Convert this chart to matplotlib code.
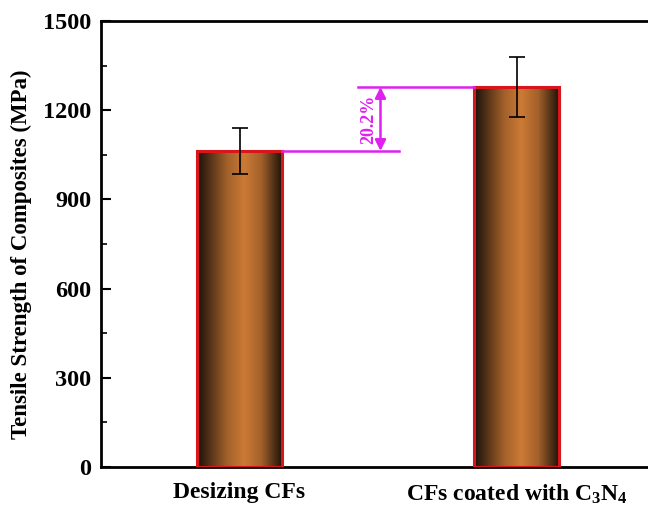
import numpy as np
import matplotlib
matplotlib.use('Agg')
import matplotlib.pyplot as plt
from matplotlib.colors import LinearSegmentedColormap
from matplotlib.patches import Rectangle

plt.rcParams['font.family'] = ['Liberation Serif', 'DejaVu Serif']
plt.rcParams['font.weight'] = 'bold'
plt.rcParams['mathtext.fontset'] = 'custom'
plt.rcParams['mathtext.rm'] = 'Liberation Serif:bold'
plt.rcParams['mathtext.it'] = 'Liberation Serif:bold'
plt.rcParams['mathtext.bf'] = 'Liberation Serif:bold'

# data
categories = ['Desizing CFs', r'CFs coated with C$_3$N$_4$']
strength = [1063, 1278]
errors = [78, 100]
increase_label = '20.2%'

fig = plt.figure(figsize=(6.48, 5.05), dpi=100)
ax = fig.add_axes([101 / 648, 38 / 505, 554 / 648, 446 / 505])

x = np.arange(1, len(categories) + 1)
width = 0.31

# gradient: dark edges, copper center
cmap = LinearSegmentedColormap.from_list(
    'copper_bar', [(0.0, '#1a100a'), (0.35, '#a2602a'), (0.55, '#cc7a35'),
                   (0.75, '#a2602a'), (1.0, '#1a100a')])
grad = np.linspace(0, 1, 256).reshape(1, -1)

for xi, h in zip(x, strength):
    im = ax.imshow(grad, cmap=cmap, aspect='auto',
                   extent=(xi - width / 2, xi + width / 2, 0, h), zorder=2)
    rect = Rectangle((xi - width / 2, 0), width, h, facecolor='none',
                     edgecolor='#d8161c', linewidth=2.2, zorder=3)
    ax.add_patch(rect)
    im.set_clip_path(rect)

ax.errorbar(x, strength, yerr=errors, fmt='none', ecolor='black',
            elinewidth=1.2, capsize=6, capthick=1.2, zorder=4)

# increase annotation
mag = '#e020f0'
ax.plot([x[0] + width / 2, 1.575], [strength[0], strength[0]],
        color=mag, lw=1.8, zorder=3)
ax.plot([1.426, x[1] - width / 2], [strength[1], strength[1]],
        color=mag, lw=1.8, zorder=3)
xa = 1.509
ax.annotate('', xy=(xa, strength[1]), xytext=(xa, strength[0]),
            arrowprops=dict(arrowstyle='<|-|>', color=mag, lw=1.8,
                            mutation_scale=16, shrinkA=0, shrinkB=0))
ax.text(1.466, (strength[0] + strength[1]) / 2, increase_label,
        rotation=90, ha='center', va='center', color=mag,
        fontsize=13, fontweight='bold')

ax.set_xlim(0.5, 2.5)
ax.set_ylim(0, 1500)
ax.set_yticks(np.arange(0, 1501, 300))
ax.set_yticks(np.arange(0, 1501, 150), minor=True)
ax.set_xticks(x)
ax.set_xticklabels(categories)
ax.tick_params(axis='y', which='major', direction='in', length=7, width=1.5,
               labelsize=17.5, right=False, pad=7)
ax.tick_params(axis='y', which='minor', direction='in', length=4, width=1.2)
ax.tick_params(axis='x', length=0, labelsize=17, pad=11)
ax.set_ylabel('Tensile Strength of Composites (MPa)', fontsize=16.5,
              fontweight='bold')
ax.yaxis.set_label_coords(-0.125, 0.478)
for s in ax.spines.values():
    s.set_linewidth(2)

fig.savefig('out.png', dpi=100)
